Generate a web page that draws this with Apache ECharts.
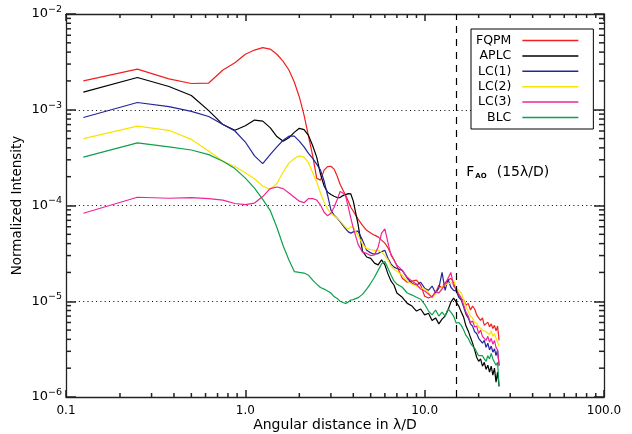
<!DOCTYPE html>
<html><head><meta charset="utf-8">
<script src="https://cdn.jsdelivr.net/npm/echarts@6/dist/echarts.min.js"></script>
<style>html,body{margin:0;padding:0;background:#fff}#c{width:632px;height:434px}</style>
</head><body><div id="c"></div>
<script>
const xValues = [0.125,0.25,0.375,0.5,0.625,0.75,0.875,1.0,
1.125,1.25,1.375,1.5,1.625,1.75,1.875,2.0,
2.125,2.25,2.375,2.5,2.625,2.75,2.875,3.0,
3.125,3.25,3.375,3.5,3.625,3.75,3.875,4.0,
4.25,4.5,4.75,5.0,5.25,5.5,5.75,6.0,
6.25,6.5,6.75,7.0,7.5,8.0,8.5,9.0,
9.5,10,10.5,11,11.5,12,12.5,13,
13.5,14,14.5,15,15.5,16,16.5,17,
17.5,18,18.5,19,19.5,20,20.5,21,
21.5,22,22.5,23,23.5,24,24.5,25,
25.5,26];

const fqpm = [2.0e-3,2.66e-3,2.1e-3,1.88e-3,1.9e-3,2.6e-3,3.1e-3,3.8e-3,
4.2e-3,4.45e-3,4.3e-3,3.8e-3,3.2e-3,2.6e-3,1.95e-3,1.36e-3,
8.8e-4,5.3e-4,3.3e-4,1.93e-4,1.84e-4,2.34e-4,2.55e-4,2.57e-4,
2.4e-4,2.03e-4,1.67e-4,1.45e-4,1.28e-4,1.11e-4,9.6e-5,8.7e-5,
7.2e-5,6.2e-5,5.5e-5,5.15e-5,4.9e-5,4.7e-5,4.35e-5,4.05e-5,
3.6e-5,3.1e-5,2.7e-5,2.33e-5,1.74e-5,1.58e-5,1.62e-5,1.66e-5,
1.47e-5,1.13e-5,1.08e-5,1.13e-5,1.22e-5,1.47e-5,1.37e-5,1.55e-5,
1.66e-5,1.74e-5,1.58e-5,1.28e-5,1.16e-5,1.05e-5,1.03e-5,9.1e-6,
9.5e-6,8.1e-6,8.9e-6,8.3e-6,7.2e-6,6.7e-6,6.3e-6,6.7e-6,
5.6e-6,5.4e-6,6.05e-6,5.4e-6,5.8e-6,5.2e-6,5.6e-6,4.9e-6,
5.5e-6,3.9e-6];

const aplc = [1.53e-3,2.17e-3,1.75e-3,1.41e-3,9.8e-4,7.0e-4,6.1e-4,6.8e-4,
7.8e-4,7.6e-4,6.5e-4,5.25e-4,4.7e-4,5.1e-4,5.8e-4,6.4e-4,
6.2e-4,5.4e-4,4.2e-4,3.2e-4,2.13e-4,1.6e-4,1.38e-4,1.3e-4,
1.25e-4,1.21e-4,1.21e-4,1.27e-4,1.3e-4,1.33e-4,1.32e-4,1.11e-4,
6.4e-5,3.34e-5,2.9e-5,2.8e-5,2.5e-5,2.4e-5,2.7e-5,2.4e-5,
1.92e-5,1.62e-5,1.47e-5,1.22e-5,1.1e-5,9.5e-6,8.9e-6,7.9e-6,
8.3e-6,7.2e-6,7.5e-6,6.3e-6,6.7e-6,5.8e-6,6.5e-6,7.0e-6,
8.1e-6,9.8e-6,1.08e-5,9.8e-6,8.9e-6,7.7e-6,6.8e-6,5.5e-6,
4.9e-6,4.2e-6,3.65e-6,3.1e-6,2.6e-6,2.36e-6,2.5e-6,2.1e-6,
2.3e-6,1.95e-6,2.15e-6,1.82e-6,2.1e-6,1.69e-6,2.0e-6,1.43e-6,
1.82e-6,1.29e-6];

const lc1 = [8.3e-4,1.19e-3,1.08e-3,9.6e-4,8.5e-4,7.0e-4,6.0e-4,4.6e-4,
3.3e-4,2.74e-4,3.4e-4,4.1e-4,4.8e-4,5.3e-4,5.3e-4,4.7e-4,
4.1e-4,3.5e-4,3.1e-4,2.7e-4,2.34e-4,1.8e-4,1.28e-4,9.0e-5,
7.9e-5,7.4e-5,6.8e-5,6.2e-5,5.7e-5,5.3e-5,5.15e-5,5.3e-5,
5.4e-5,4.35e-5,3.4e-5,3.2e-5,3.1e-5,3.15e-5,3.3e-5,3.4e-5,
2.8e-5,2.44e-5,2.27e-5,2.2e-5,2.1e-5,1.74e-5,1.54e-5,1.47e-5,
1.58e-5,1.37e-5,1.3e-5,1.44e-5,1.22e-5,1.37e-5,2.0e-5,1.3e-5,
1.7e-5,1.4e-5,1.3e-5,1.28e-5,1.1e-5,1.03e-5,8.7e-6,7.3e-6,
6.7e-6,5.8e-6,5.5e-6,4.8e-6,4.6e-6,4.1e-6,4.3e-6,3.65e-6,
3.9e-6,3.3e-6,3.65e-6,3.1e-6,3.4e-6,2.94e-6,3.2e-6,2.7e-6,
3.1e-6,2.15e-6];

const lc2 = [5.0e-4,6.75e-4,6.1e-4,4.9e-4,3.7e-4,2.9e-4,2.55e-4,2.2e-4,
1.9e-4,1.6e-4,1.47e-4,1.7e-4,2.24e-4,2.77e-4,3.1e-4,3.3e-4,
3.2e-4,2.8e-4,2.2e-4,1.76e-4,1.35e-4,1.08e-4,9.2e-5,8.3e-5,
7.8e-5,7.4e-5,6.9e-5,6.4e-5,5.9e-5,5.7e-5,6.0e-5,5.9e-5,
4.9e-5,3.95e-5,3.55e-5,3.46e-5,3.4e-5,3.4e-5,3.26e-5,3.0e-5,
2.7e-5,2.33e-5,2.16e-5,2.06e-5,1.87e-5,1.62e-5,1.51e-5,1.44e-5,
1.37e-5,1.34e-5,1.24e-5,1.08e-5,1.19e-5,1.22e-5,1.4e-5,1.47e-5,
1.54e-5,1.54e-5,1.66e-5,1.37e-5,1.3e-5,1.22e-5,1.03e-5,8.7e-6,
7.9e-6,7.0e-6,6.7e-6,6.0e-6,5.9e-6,5.4e-6,5.6e-6,5.0e-6,
5.2e-6,4.8e-6,5.0e-6,4.5e-6,4.9e-6,4.3e-6,4.6e-6,4.1e-6,
4.3e-6,3.4e-6];

const lc3 = [8.3e-5,1.22e-4,1.19e-4,1.21e-4,1.18e-4,1.14e-4,1.05e-4,1.02e-4,
1.06e-4,1.24e-4,1.5e-4,1.56e-4,1.5e-4,1.35e-4,1.22e-4,1.11e-4,
1.07e-4,1.18e-4,1.18e-4,1.14e-4,1.01e-4,8.5e-5,7.8e-5,8.3e-5,
9.6e-5,1.15e-4,1.4e-4,1.35e-4,1.25e-4,9.6e-5,7.4e-5,5.8e-5,
3.95e-5,3.26e-5,3.16e-5,3.0e-5,3.05e-5,3.67e-5,5.15e-5,5.7e-5,
4.05e-5,3.0e-5,2.7e-5,2.38e-5,2.1e-5,1.78e-5,1.62e-5,1.51e-5,
1.34e-5,1.28e-5,1.19e-5,1.1e-5,1.28e-5,1.22e-5,1.34e-5,1.51e-5,
1.74e-5,2.0e-5,1.44e-5,1.34e-5,1.19e-5,1.08e-5,9.1e-6,7.7e-6,
7.0e-6,6.0e-6,6.2e-6,5.4e-6,5.5e-6,4.6e-6,5.0e-6,4.3e-6,
4.5e-6,3.9e-6,4.3e-6,3.74e-6,4.1e-6,3.56e-6,3.9e-6,3.3e-6,
3.1e-6,2.1e-6];

const blc = [3.2e-4,4.5e-4,4.1e-4,3.8e-4,3.4e-4,2.9e-4,2.43e-4,1.93e-4,
1.52e-4,1.16e-4,8.9e-5,5.9e-5,3.8e-5,2.7e-5,2.04e-5,2.0e-5,
1.97e-5,1.87e-5,1.66e-5,1.51e-5,1.39e-5,1.34e-5,1.28e-5,1.22e-5,
1.12e-5,1.07e-5,1.0e-5,9.7e-6,9.5e-6,9.8e-6,1.03e-5,1.04e-5,
1.09e-5,1.18e-5,1.34e-5,1.54e-5,1.78e-5,2.1e-5,2.47e-5,2.6e-5,
2.2e-5,1.87e-5,1.62e-5,1.51e-5,1.4e-5,1.22e-5,1.16e-5,1.1e-5,
1.05e-5,9.3e-6,7.9e-6,7.2e-6,8.1e-6,7.0e-6,7.7e-6,7.0e-6,
8.3e-6,7.7e-6,7.0e-6,5.9e-6,6.0e-6,5.6e-6,5.0e-6,4.4e-6,
4.1e-6,3.65e-6,3.4e-6,3.24e-6,2.94e-6,2.7e-6,2.6e-6,2.7e-6,
2.5e-6,2.36e-6,2.7e-6,2.5e-6,2.85e-6,2.5e-6,2.6e-6,2.15e-6,
2.3e-6,1.29e-6];

const seriesNames = ['FQPM','APLC','LC(1)','LC(2)','LC(3)','BLC'];
const seriesValues = [fqpm, aplc, lc1, lc2, lc3, blc];
const seriesColors = ['#f21f1f','#000000','#24249a','#f7e400','#ec2596','#0ea04c'];

const xTickValues = [0.1, 1, 10, 100];
const xTickLabels = ['0.1','1.0','10.0','100.0'];
const yTickValues = [1e-6, 1e-5, 1e-4, 1e-3, 1e-2];
const yTickExponents = ['6','5','4','3','2'];
const xMinorTicks = [0.2,0.3,0.4,0.5,0.6,0.7,0.8,0.9,2,3,4,5,6,7,8,9,20,30,40,50,60,70,80,90];
const yMinorTicks = [2e-6,3e-6,4e-6,5e-6,6e-6,7e-6,8e-6,9e-6,
  2e-5,3e-5,4e-5,5e-5,6e-5,7e-5,8e-5,9e-5,
  2e-4,3e-4,4e-4,5e-4,6e-4,7e-4,8e-4,9e-4,
  2e-3,3e-3,4e-3,5e-3,6e-3,7e-3,8e-3,9e-3];
const fAO = 15;
const annotationY = 2.2e-4;

const FONT = 'DejaVu Sans';
const AX = '#222';

function nearestIndex(arr, v){
  let best = 0, bd = Infinity;
  for (let i = 0; i < arr.length; i++){
    const d = Math.abs(Math.log10(arr[i]) - Math.log10(v));
    if (d < bd){ bd = d; best = i; }
  }
  return best;
}

const chart = echarts.init(document.getElementById('c'), null, {renderer:'canvas'});

function axisBase(extra){
  return Object.assign({
    type:'log', logBase:10,
    axisLine:{show:true, onZero:false, lineStyle:{color:AX, width:1.3}},
    splitLine:{show:false},
    minorTick:{show:false},
    nameMoveOverlap:false
  }, extra);
}
const xMajorTick = {show:true, inside:true, length:7, lineStyle:{color:'#222', width:1.5}};
const yMajorTick = {show:true, inside:true, length:10, lineStyle:{color:'#222', width:1.5}};

const lineSeries = seriesNames.map((n,i)=>({
  name:n, type:'line', xAxisIndex:0, yAxisIndex:0,
  symbol:'none', showSymbol:false,
  lineStyle:{color:seriesColors[i], width:1.2},
  itemStyle:{color:seriesColors[i]},
  data: xValues.map((x,j)=>[x, seriesValues[i][j]]),
  z: 3
}));
lineSeries[0].markLine = {
  silent:true, symbol:['none','none'], animation:false,
  label:{show:false},
  lineStyle:{color:'#000', type:[7,6], width:1.2},
  data:[{xAxis: fAO}]
};

const option = {
  animation:false,
  backgroundColor:'#fff',
  textStyle:{fontFamily:FONT},
  grid:{left:66, right:28, top:14, bottom:37, containLabel:false, outerBoundsMode:'none'},
  legend:{
    data: seriesNames, orient:'vertical', left:471, top:29, align:'right',
    padding:[4,15,4,5], itemGap:0.4, itemWidth:56, itemHeight:1.5,
    icon:'rect', selectedMode:false,
    borderColor:'#000', borderWidth:1, backgroundColor:'#fff',
    textStyle:{fontFamily:FONT, fontSize:12.5, color:'#000', lineHeight:15, padding:[0,6,0,0]}
  },
  xAxis:[
    axisBase({min:0.1, max:100, position:'bottom', axisTick:xMajorTick,
      axisLabel:{show:true, margin:8, color:'#000', fontFamily:FONT, fontSize:12,
        showMinLabel:true, showMaxLabel:true,
        formatter:(v)=>xTickLabels[nearestIndex(xTickValues, v)]},
      name:'Angular distance in λ/D', nameLocation:'middle', nameGap:21,
      nameTextStyle:{fontFamily:FONT, fontSize:14, color:'#000'}
    }),
    axisBase({min:0.1, max:100, position:'top', axisTick:xMajorTick, axisLabel:{show:false}})
  ],
  yAxis:[
    axisBase({min:1e-6, max:1e-2, position:'left', axisTick:yMajorTick,
      splitLine:{show:true, lineStyle:{color:'#000', type:[1,3.3], width:1}},
      axisLabel:{show:true, margin:4, color:'#000',
        showMinLabel:true, showMaxLabel:true,
        formatter:(v)=>'{b|10}{s|−'+yTickExponents[nearestIndex(yTickValues, v)]+'}',
        rich:{
          b:{fontFamily:FONT, fontSize:13, color:'#000', lineHeight:16},
          s:{fontFamily:FONT, fontSize:9.5, color:'#000', lineHeight:10, padding:[0,0,9,0]}
        }},
      name:'Normalized Intensity', nameLocation:'middle', nameGap:42,
      nameTextStyle:{fontFamily:FONT, fontSize:13.5, color:'#000'}
    }),
    axisBase({min:1e-6, max:1e-2, position:'right', axisTick:yMajorTick, axisLabel:{show:false}})
  ],
  series: lineSeries
};

chart.setOption(option);

// Minor tick marks on all four sides, placed through the series' coordinate system.
const fs = {seriesIndex:0};
const toPx = (x, y) => chart.convertToPixel(fs, [x, y]);
const midY = yTickValues[2], midX = xTickValues[1];
const cornerLB = toPx(xTickValues[0], yTickValues[0]);
const cornerRT = toPx(xTickValues[xTickValues.length-1], yTickValues[yTickValues.length-1]);
const gLeft = cornerLB[0], gBottom = cornerLB[1], gRight = cornerRT[0], gTop = cornerRT[1];
const graphics = [];
function tickLine(x1,y1,x2,y2){
  graphics.push({type:'line', z:50, z2:50,
    shape:{x1:x1,y1:y1,x2:x2,y2:y2}, style:{stroke:'#222', lineWidth:1.5}});
}
function xTick(v, len){
  const px = toPx(v, midY)[0];
  tickLine(px, gBottom, px, gBottom - len);
  tickLine(px, gTop, px, gTop + len);
}
function yTick(v, len){
  const py = toPx(midX, v)[1];
  tickLine(gLeft, py, gLeft + len, py);
  tickLine(gRight, py, gRight - len, py);
}
xMinorTicks.forEach(v => xTick(v, 4));
yMinorTicks.forEach(v => yTick(v, 5));

const ap = toPx(fAO, annotationY);
graphics.push({
  type:'text', x: ap[0] + 10, y: ap[1], silent:true, z:50,
  style:{
    text:'{f|F}{a|AO}{t|(15λ/D)}',
    verticalAlign:'middle', align:'left',
    rich:{
      f:{fontFamily:FONT, fontSize:14, color:'#000', lineHeight:16},
      a:{fontFamily:FONT, fontSize:7, fontWeight:'bold', color:'#000', lineHeight:8, padding:[7,0,0,1]},
      t:{fontFamily:FONT, fontSize:14, color:'#000', lineHeight:16, padding:[0,0,0,10]}
    }
  }
});
chart.setOption({graphic: {elements: graphics}});
</script>
</body></html>
